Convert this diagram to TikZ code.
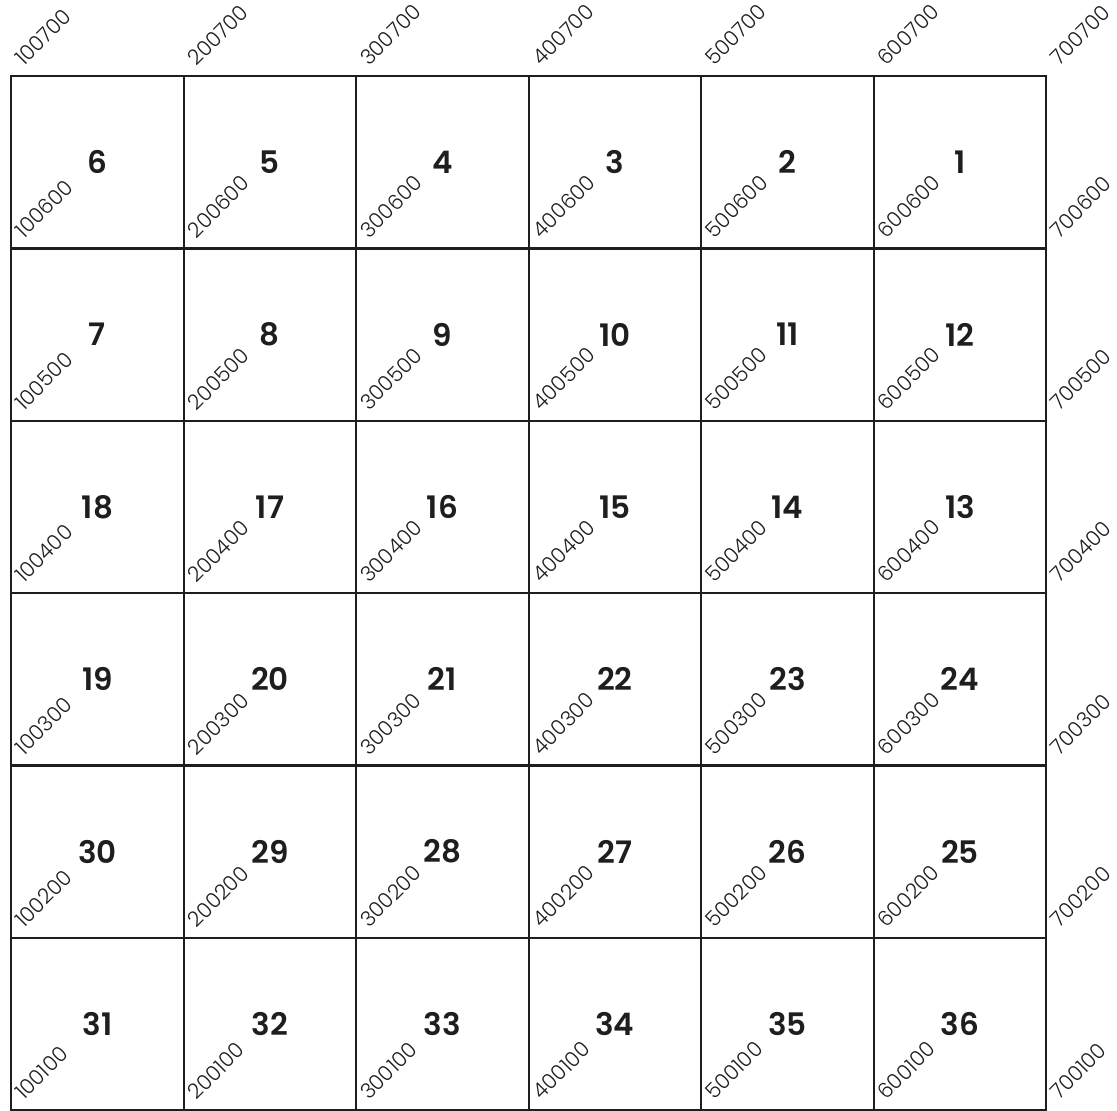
\documentclass[tikz,border=0pt]{standalone}
\usepackage{fontspec}
\setmainfont{Poppins}
\newfontfamily\tagfont{Poppins Light}
\newfontfamily\numfont{Poppins SemiBold}
\usetikzlibrary{positioning}
\definecolor{gridInk}{HTML}{1E1E1E}
\tikzset{
  cellbox/.style={
    draw=gridInk, line width=2.4pt, minimum width=172.5pt, minimum height=172.33pt,
    inner sep=0pt, anchor=north west, text=gridInk,
    font=\numfont\fontsize{31}{31}\selectfont
  },
  cornertag/.style={
    font=\tagfont\fontsize{21}{21}\selectfont, text=gridInk, rotate=45,
    anchor=base west, inner sep=0pt
  }
}

\begin{document}
\begin{tikzpicture}[x=1pt, y=-1pt]
  \useasboundingbox (0,0) rectangle (1117,1111);
  % cells, numbered back and forth row by row
  \foreach \r in {1,...,6}{
    \foreach \c in {1,...,6}{
      \pgfmathtruncatemacro\n{ifthenelse(mod(\r,2)==1, 6*\r-\c+1, 6*(\r-1)+\c)}
      \node[cellbox] (cell-\r-\c) at ({10+172.5*(\c-1)}, {75+172.33*(\r-1)}) {\n};
    }
  }
  % corner tags on every grid crossing
  \foreach \i in {1,...,7}{
    \foreach \j in {1,...,7}{
      \coordinate (pt-\i-\j) at ({10+172.5*(\i-1)}, {75+172.33*(7-\j)});
      \node[cornertag] (tag-\i-\j) at ([xshift=14pt, yshift=8pt]pt-\i-\j) {\i00\j00};
    }
  }
\end{tikzpicture}
\end{document}
